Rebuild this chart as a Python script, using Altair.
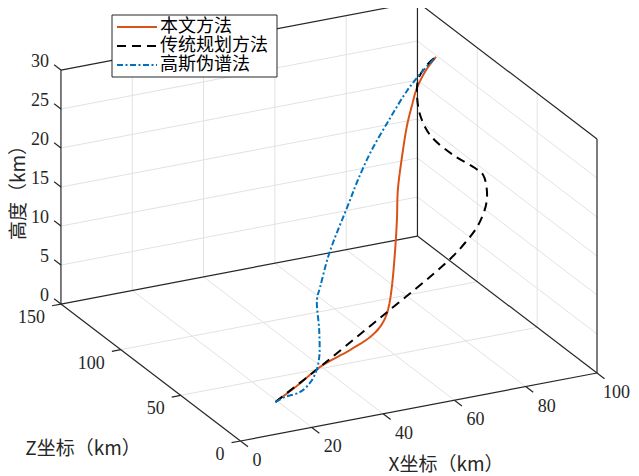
import altair as alt
import pandas as pd

# ---------------- data (X, Z, height in km) ----------------
series_names = ["本文方法", "传统规划方法", "高斯伪谱法"]
series_colors = ["#D95319", "#000000", "#0072BD"]
series_dashes = [[1, 0], [9, 6], [6, 2.5, 2, 2.5]]

ours_x = [19.3, 28.2, 37.3, 47.9, 55.1, 59.1, 61.4, 61.9, 63.2, 64.7, 65.7, 66.7, 69.3, 73.0, 76.1, 78.9, 82.2, 84.9, 88.0]
ours_z = [28.3, 36.0, 44.7, 51.2, 55.8, 59.5, 61.3, 60.2, 61.8, 63.7, 65.0, 67.2, 71.5, 78.2, 83.3, 88.2, 93.1, 96.1, 98.8]
ours_h = [0, 0.5, 1, 1.5, 2, 2.5, 3.5, 5, 7, 11, 15, 18.5, 22, 25, 26.7, 27.8, 28.6, 29.3, 30]

trad_x = [19.3, 36.0, 59.1, 85.2, 91.4, 95.1, 97.0, 97.0, 96.0, 93.9, 89.4, 85.5, 84.6, 85.1, 86.4, 87.0, 87.9, 88.0]
trad_z = [28.3, 40.9, 59.5, 81.3, 84.7, 84.6, 83.8, 83.1, 83.2, 83.8, 88.7, 96.3, 101.9, 105.9, 109.0, 106.6, 103.6, 98.8]
trad_h = [0, 1.56, 3.66, 6, 7.5, 9.5, 12, 14, 16, 17, 18.5, 20.5, 22.5, 24.3, 26, 27.5, 28.8, 30]

gpm_x = [19.3, 22.3, 26.2, 29.2, 31.5, 33.2, 35.4, 38.0, 39.1, 42.8, 45.7, 48.8, 52.6, 56.0, 62.2, 70.8, 77.9, 82.9, 86.3, 88.0]
gpm_z = [28.3, 29.1, 28.2, 29.0, 30.8, 33.1, 39.7, 49.3, 49.9, 54.3, 57.0, 60.5, 65.1, 69.4, 76.9, 85.8, 93.0, 96.8, 98.6, 98.8]
gpm_h = [0, 0.3, 0.7, 1.5, 2.5, 4, 6.5, 9, 10.5, 13.5, 15.5, 17, 18.7, 20.2, 22.5, 25.2, 27.2, 28.5, 29.4, 30]

x_ticks = [0, 20, 40, 60, 80, 100]
z_ticks = [0, 50, 100, 150]
h_ticks = [0, 5, 10, 15, 20, 25, 30]

x_title = "X坐标（km）"
z_title = "Z坐标（km）"
h_title = "高度（km）"

# ---------------- 3D view (orthographic projection to screen) ----------------
O = (240.5, 441.0)
EX = (3.565, -0.68)
EZ = (-1.197, -0.913)
EH = -7.8


def P(x, z, h):
    return (O[0] + EX[0] * x + EZ[0] * z, O[1] + EX[1] * x + EZ[1] * z + EH * h)


x0, x1 = min(x_ticks), max(x_ticks)
z0, z1 = min(z_ticks), max(z_ticks)
h0, h1 = min(h_ticks), max(h_ticks)


def seg(rows, a, b):
    (ax, ay), (bx, by) = P(*a), P(*b)
    rows.append(dict(x1=ax, y1=ay, x2=bx, y2=by))


# grid lines on the three back planes
grid = []
for x in x_ticks[1:-1]:
    seg(grid, (x, z0, h0), (x, z1, h0))
    seg(grid, (x, z1, h0), (x, z1, h1))
for z in z_ticks[1:-1]:
    seg(grid, (x0, z, h0), (x1, z, h0))
    seg(grid, (x1, z, h0), (x1, z, h1))
for h in h_ticks[1:-1]:
    seg(grid, (x0, z1, h), (x1, z1, h))
    seg(grid, (x1, z0, h), (x1, z1, h))

# box edges + axes
box = []
seg(box, (x0, z1, h0), (x1, z1, h0))
seg(box, (x1, z1, h0), (x1, z0, h0))
seg(box, (x0, z1, h0), (x0, z1, h1))
seg(box, (x1, z1, h0), (x1, z1, h1))
seg(box, (x1, z0, h0), (x1, z0, h1))
seg(box, (x0, z1, h1), (x1, z1, h1))
seg(box, (x1, z1, h1), (x1, z0, h1))
seg(box, (x0, z0, h0), (x0, z1, h0))
seg(box, (x0, z0, h0), (x1, z0, h0))

# tick marks
TX, TZ, TH = 6.3, 2.5, 5.7
for x in x_ticks:
    seg(box, (x, z0, h0), (x, z0 - TX, h0))
for z in z_ticks:
    seg(box, (x0, z, h0), (x0 - TZ, z, h0))
for h in h_ticks:
    seg(box, (x0, z1, h), (x0, z1 + TH, h))

# tick labels
xl = [dict(px=P(x, z0, h0)[0] + 12, py=P(x, z0, h0)[1] + 20, t=str(x)) for x in x_ticks]
zl = [dict(px=P(x0, z, h0)[0] - 16, py=P(x0, z, h0)[1] + 14, t=str(z)) for z in z_ticks]
hl = [dict(px=P(x0, z1, h)[0] - 12, py=P(x0, z1, h)[1] - 8, t=str(h)) for h in h_ticks]

# curves
curves = []
for name, xs_, zs_, hs_ in [(series_names[0], ours_x, ours_z, ours_h),
                            (series_names[1], trad_x, trad_z, trad_h),
                            (series_names[2], gpm_x, gpm_z, gpm_h)]:
    for i, (x, z, h) in enumerate(zip(xs_, zs_, hs_)):
        px, py = P(x, z, h)
        curves.append(dict(name=name, i=i, px=px, py=py))

# ---------------- chart ----------------
RIGHT = 631
xs = alt.Scale(domain=[8, RIGHT], nice=False, zero=False)
ys = alt.Scale(domain=[468, 8], nice=False, zero=False)
AX = "#262626"
SERIF = "Liberation Serif"
CJK = "Noto Sans CJK SC"
color = alt.Color("name:N", scale=alt.Scale(domain=series_names, range=series_colors), legend=None)
dash = alt.StrokeDash("name:N", scale=alt.Scale(domain=series_names, range=series_dashes), legend=None)


def rules(df, **kw):
    return alt.Chart(pd.DataFrame(df)).mark_rule(**kw).encode(
        x=alt.X("x1:Q", scale=xs, axis=None), y=alt.Y("y1:Q", scale=ys, axis=None),
        x2="x2:Q", y2="y2:Q")


def texts(df, **kw):
    return alt.Chart(pd.DataFrame(df)).mark_text(**kw).encode(
        x=alt.X("px:Q", scale=xs, axis=None), y=alt.Y("py:Q", scale=ys, axis=None), text="t:N")


grid_layer = rules(grid, color="#e2e2e2", strokeWidth=1)
box_layer = rules(box, color=AX, strokeWidth=1.2)
lab_kw = dict(font=SERIF, fontSize=18, color=AX, baseline="middle")
xl_layer = texts(xl[:-1], align="left", **lab_kw)
# last x label kept inside the page's right edge
xl_last = texts([dict(px=RIGHT - 1, py=xl[-1]["py"], t=xl[-1]["t"])], align="right", **lab_kw)
zl_layer = texts(zl, align="right", **lab_kw)
hl_layer = texts(hl, align="right", **lab_kw)

titles = texts([dict(px=446, py=465, t=x_title)], font=CJK, fontSize=19, color=AX,
               align="center", baseline="middle")
ztitle = texts([dict(px=83, py=449, t=z_title)], font=CJK, fontSize=19, color=AX,
               align="center", baseline="middle")
htitle = texts([dict(px=18.5, py=188, t=h_title)], font=CJK, fontSize=19, color=AX,
               align="center", baseline="middle", angle=270)

curve_layer = alt.Chart(pd.DataFrame(curves)).mark_line(strokeWidth=2, interpolate="catmull-rom").encode(
    x=alt.X("px:Q", scale=xs, axis=None), y=alt.Y("py:Q", scale=ys, axis=None),
    color=color, strokeDash=dash, order="i:Q", detail="name:N")

# legend box
LX0, LY0, LW, LH = 112, 15, 165, 62
ROW0, ROWSTEP = 27, 19
leg_box = alt.Chart(pd.DataFrame([dict(a=LX0, b=LY0, c=LX0 + LW, d=LY0 + LH)])).mark_rect(
    fill="white", stroke=AX, strokeWidth=1).encode(
    x=alt.X("a:Q", scale=xs, axis=None), y=alt.Y("b:Q", scale=ys, axis=None), x2="c:Q", y2="d:Q")
leg_rows = [dict(name=n, x1=LX0 + 5, x2=LX0 + 45, y1=ROW0 + k * ROWSTEP, y2=ROW0 + k * ROWSTEP,
                 px=LX0 + 48, py=ROW0 + k * ROWSTEP, t=n) for k, n in enumerate(series_names)]
leg_lines = alt.Chart(pd.DataFrame(leg_rows)).mark_rule(strokeWidth=2).encode(
    x=alt.X("x1:Q", scale=xs, axis=None), y=alt.Y("y1:Q", scale=ys, axis=None),
    x2="x2:Q", y2="y2:Q", color=color, strokeDash=dash)
leg_text = texts(leg_rows, font=CJK, fontSize=18, color="#000000", align="left", baseline="middle")

chart = alt.layer(
    grid_layer, box_layer, xl_layer, xl_last, zl_layer, hl_layer, titles, ztitle, htitle,
    curve_layer, leg_box, leg_lines, leg_text
).properties(
    width=623, height=460,
    autosize=alt.AutoSizeParams(type="none"),
    padding={"left": 0, "top": 0, "right": 0, "bottom": 8},
    background="white",
).configure_view(stroke=None)

chart.save("out.html", embed_options={"renderer": "svg", "actions": False})
